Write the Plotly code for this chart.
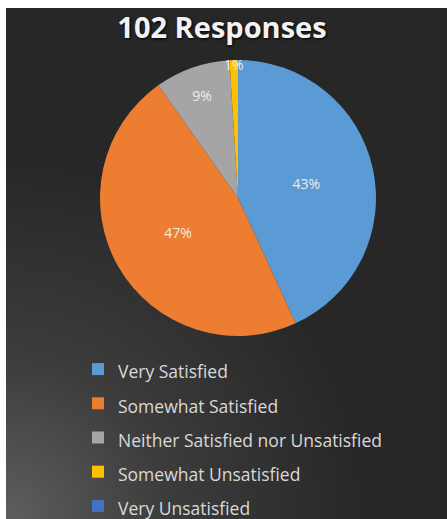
import base64
import plotly.graph_objects as go

# ---- data ----
categories = ["Very Satisfied", "Somewhat Satisfied",
              "Neither Satisfied nor Unsatisfied", "Somewhat Unsatisfied",
              "Very Unsatisfied"]
responses = [44, 48, 9, 1, 0]
colors = ["#5B9BD5", "#ED7D31", "#A5A5A5", "#FFC000", "#4472C4"]
title_text = "102 Responses"

W, H = 447, 519

# background with soft gradient (decoration only)
svg = (
    '<svg xmlns="http://www.w3.org/2000/svg" width="441" height="511" '
    'viewBox="0 0 441 511" preserveAspectRatio="none">'
    '<defs><radialGradient id="g" gradientUnits="userSpaceOnUse" cx="0" cy="511" r="360">'
    '<stop offset="0" stop-color="#5e5e5e"/>'
    '<stop offset="0.45" stop-color="#3c3c3c"/>'
    '<stop offset="1" stop-color="#272727"/>'
    '</radialGradient></defs>'
    '<rect width="441" height="511" fill="url(#g)"/></svg>'
)
bg_uri = "data:image/svg+xml;base64," + base64.b64encode(svg.encode()).decode()

legend_labels = [f"<span style='font-size:17.5px'>{c}</span>" for c in categories]
slice_text = [f"{round(100*v/sum(responses))}%" if v > 0 else "" for v in responses]

cx, cy, r = 238, 198, 138
fig = go.Figure(go.Pie(
    labels=legend_labels,
    values=responses,
    text=slice_text,
    textinfo="text",
    textposition="inside",
    insidetextorientation="horizontal",
    sort=False,
    direction="clockwise",
    rotation=0,
    marker=dict(colors=colors, line=dict(width=0)),
    textfont=dict(family="Open Sans", size=14, color="#ececec"),
    domain=dict(x=[(cx - r) / W, (cx + r) / W],
                y=[1 - (cy + r) / H, 1 - (cy - r) / H]),
    hoverinfo="label+value+percent",
))

fig.update_layout(
    width=W, height=H,
    margin=dict(l=0, r=0, t=0, b=0, autoexpand=False),
    paper_bgcolor="white",
    plot_bgcolor="rgba(0,0,0,0)",
    uniformtext=dict(minsize=14, mode="show"),
    title=dict(text=f"<b>{title_text}</b>", x=222 / W, xanchor="center",
               y=1 - 28 / H, yref="container", yanchor="middle",
               font=dict(family="Open Sans", size=29, color="#f2f2f2",
                         shadow="1px 1px 3px #000")),
    showlegend=True,
    legend=dict(x=78 / W, xanchor="left", y=1 - 347 / H, yanchor="top",
                bgcolor="rgba(0,0,0,0)", borderwidth=0,
                font=dict(family="Open Sans", size=24, color="#d9d9d9"),
                itemclick=False, itemdoubleclick=False),
    images=[dict(source=bg_uri, xref="paper", yref="paper",
                 x=6 / W, y=1 - 8 / H, sizex=441 / W, sizey=511 / H,
                 xanchor="left", yanchor="top", sizing="stretch",
                 layer="below")],
)

fig.write_html("out.html")
